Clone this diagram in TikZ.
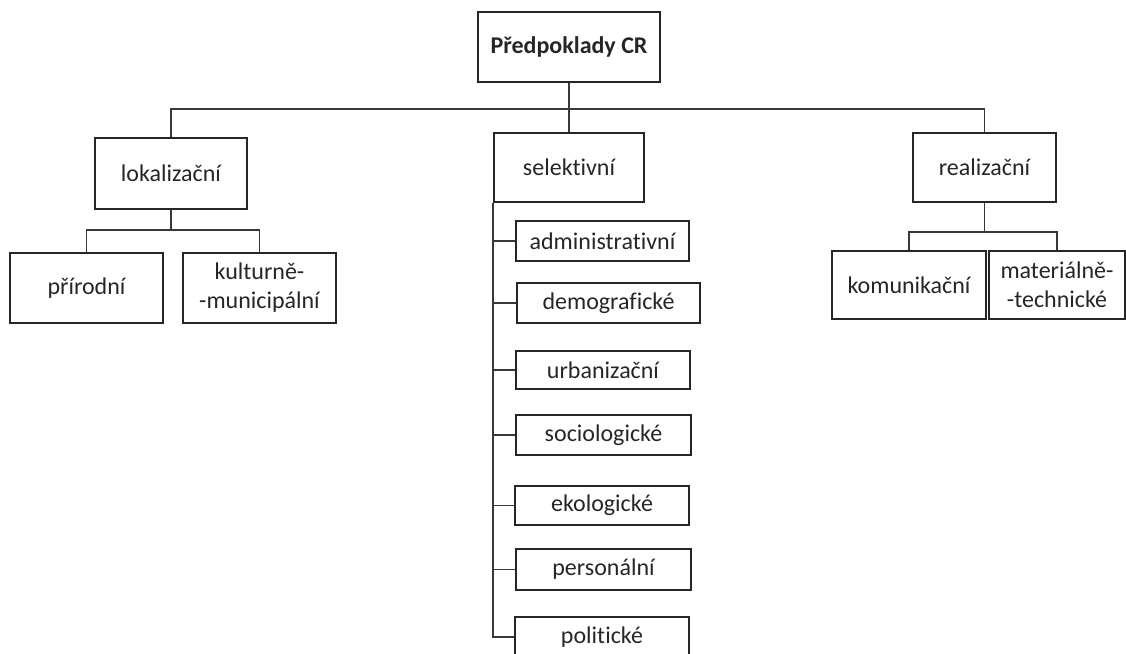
\documentclass[tikz,border=0pt]{standalone}
\usepackage{fontspec}
\setmainfont{Carlito}[RawFeature={-liga;-clig;-calt;-rlig;-dlig}]
\begin{document}
\begin{tikzpicture}[x=1pt,y=-1pt,
  box/.style={draw=black!85, line width=1.7pt, rectangle, inner sep=0pt, align=center,
    font=\fontsize{24}{29}\selectfont, text=black!85},
  conn/.style={draw=black!78, line width=1.7pt},
]
\useasboundingbox (0,0) rectangle (1126,653);
\clip (0,0) rectangle (1126,653);
% nodes
\node[box, minimum width=182pt, minimum height=70pt, font=\fontsize{24}{29}\selectfont\bfseries] (root) at (569,47) {Předpoklady CR};
\node[box, minimum width=152pt, minimum height=71pt] (lok) at (171,173.5) {lokalizační};
\node[box, minimum width=150pt, minimum height=69pt] (sel) at (569,167.5) {selektivní};
\node[box, minimum width=143pt, minimum height=69pt] (real) at (984.5,167.5) {realizační};
\node[box, minimum width=153pt, minimum height=70pt] (prir) at (86.5,288) {přírodní};
\node[box, minimum width=153pt, minimum height=70pt] (kult) at (259.5,288) {kulturně-\\-municipální};
\node[box, minimum width=154pt, minimum height=68pt] (kom) at (909,285) {komunikační};
\node[box, minimum width=136pt, minimum height=68pt] (mat) at (1057,285) {materiálně-\\-technické};
\node[box, minimum width=173pt, minimum height=40pt] (adm) at (602.5,241) {administrativní};
\node[box, minimum width=183pt, minimum height=40pt] (dem) at (608.5,303) {demografické};
\node[box, minimum width=174pt, minimum height=38pt] (urb) at (603,370) {urbanizační};
\node[box, minimum width=175pt, minimum height=40pt] (soc) at (603.5,435) {sociologické};
\node[box, minimum width=174pt, minimum height=39pt] (eko) at (602,505.5) {ekologické};
\node[box, minimum width=175pt, minimum height=41pt] (per) at (603.5,569.5) {personální};
\node[box, minimum width=174pt, minimum height=40pt] (pol) at (602,637) {politické};
% bus coordinates
\coordinate (bus) at (569,109);
\coordinate (lokbus) at (171,230);
\coordinate (realbus) at (984.5,232);
% connectors
\draw[conn] (root) -- (sel);
\draw[conn] (lok.north) |- (bus) -| (real.north);
\draw[conn] (lok) -- (lokbus);
\draw[conn] (prir.north) |- (lokbus) -| (kult.north);
\draw[conn] (real) -- (realbus);
\draw[conn] (kom.north) |- (realbus) -| (mat.north);
\draw[conn] (sel.south west) |- (pol.west);
\foreach \n in {adm,dem,urb,soc,eko,per}
  \draw[conn] (sel.south west |- \n.west) -- (\n.west);
\end{tikzpicture}
\end{document}
